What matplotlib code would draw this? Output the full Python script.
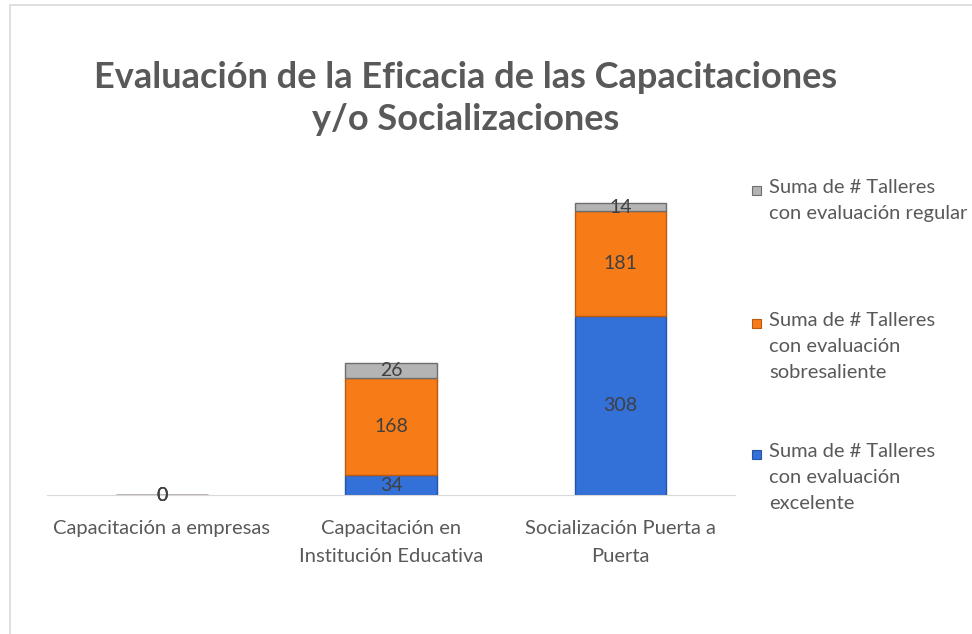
import numpy as np
import matplotlib.pyplot as plt
from matplotlib.patches import Rectangle

plt.rcParams['font.family'] = ['Lato', 'DejaVu Sans']

categorias = ['Capacitación a empresas',
              'Capacitación en\nInstitución Educativa',
              'Socialización Puerta a\nPuerta']
excelente = [0, 34, 308]
sobresaliente = [0, 168, 181]
regular = [0, 26, 14]

series = [
    ('Suma de # Talleres\ncon evaluación\nexcelente', excelente, '#3370d8', '#2553a8'),
    ('Suma de # Talleres\ncon evaluación\nsobresaliente', sobresaliente, '#f77b17', '#b85a10'),
    ('Suma de # Talleres\ncon evaluación regular', regular, '#b4b4b4', '#6e6e6e'),
]

txt = '#595959'
fig = plt.figure(figsize=(9.72, 6.34), dpi=100)
ax = fig.add_axes([0.0484, 0.2192, 0.708, 0.549])

# chart area border
fig.patches.append(Rectangle((10 / 972, -0.01), 1.0, 1 - 5 / 634 + 0.01,
                             transform=fig.transFigure, fill=False,
                             edgecolor='#d9d9d9', linewidth=1.2))

x = np.arange(len(categorias))
bottom = np.zeros(len(categorias))
for nombre, vals, color, borde in series:
    vals = np.array(vals)
    bars = ax.bar(x, vals, width=0.4, bottom=bottom, color=color,
                  edgecolor=borde, linewidth=1.0)
    for b, v, y0 in zip(bars, vals, bottom):
        ax.text(b.get_x() + b.get_width() / 2, y0 + v / 2, str(v),
                ha='center', va='center', fontsize=14, color='#404040')
    bottom += vals

ax.set_xlim(-0.5, 2.5)
ax.set_ylim(0, 600)
ax.set_xticks(x)
ax.set_xticklabels(categorias, fontsize=14.5, color=txt, linespacing=1.75)
ax.tick_params(axis='x', length=0, pad=18)
ax.set_yticks([])
for s in ['top', 'right', 'left']:
    ax.spines[s].set_visible(False)
ax.spines['bottom'].set_color('#d9d9d9')

fig.text(466 / 972, 1 - 77 / 634, 'Evaluación de la Eficacia de las Capacitaciones',
         ha='center', va='center', fontsize=26, fontweight='bold', color=txt)
fig.text(466 / 972, 1 - 120 / 634, 'y/o Socializaciones',
         ha='center', va='center', fontsize=26, fontweight='bold', color=txt)

# legend, top entry first
tops = [179, 312, 443]
for (nombre, vals, color, borde), ytop in zip(series[::-1], tops):
    fig.patches.append(Rectangle((752 / 972, 1 - (ytop + 16) / 634), 9 / 972, 9 / 634,
                                 transform=fig.transFigure, facecolor=color,
                                 edgecolor=borde, linewidth=0.8))
    fig.text(769 / 972, 1 - ytop / 634, nombre, ha='left', va='top',
             fontsize=14.5, color=txt, linespacing=1.65)

fig.savefig('out.png', dpi=100)
